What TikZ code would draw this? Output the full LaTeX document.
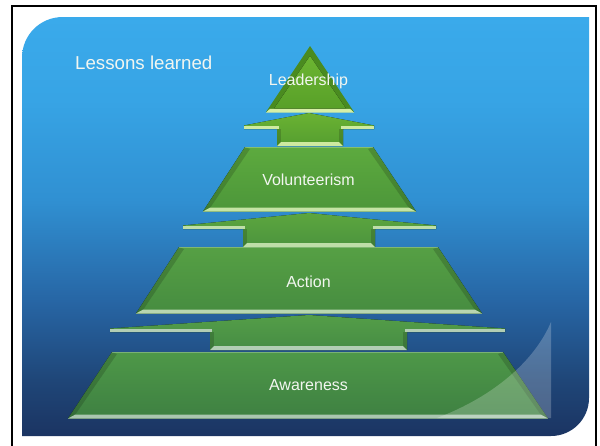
\documentclass[tikz,border=0pt]{standalone}
\usepackage{fontspec}
\setmainfont{Liberation Sans}
\definecolor{bgtop}{HTML}{3AAAEB}
\definecolor{bgA}{HTML}{37A4E5}
\definecolor{bgB}{HTML}{3090D2}
\definecolor{bgC}{HTML}{2766A5}
\definecolor{bgD}{HTML}{1F4678}
\definecolor{bgbot}{HTML}{1B3462}
\definecolor{txt}{HTML}{F2F6F0}
\pgfdeclareverticalshading{bgsh}{100bp}{color(0bp)=(bgbot); color(25bp)=(bgbot); color(31.7bp)=(bgD); color(41.2bp)=(bgC); color(53.2bp)=(bgB); color(65.1bp)=(bgA); color(75bp)=(bgtop); color(100bp)=(bgtop)}
\colorlet{pale}{white}
\tikzset{
  lbl/.style={text=txt, inner sep=0pt, font=\fontsize{16}{19}\selectfont},
  sidedark/.style={fill=black, fill opacity=0.16},
  topedge/.style={draw=white, draw opacity=0.25, line width=1pt},
  palestrip/.style={fill=pale},
}
% trapezoid: a b (top x) c d (bottom x) t bt (y) topcolor botcolor
\newcommand\pyrtrap[8]{%
  \fill[top color=#7,bottom color=#8] (#1,#5) -- (#2,#5) -- (#4,#6) -- (#3,#6) -- cycle;
  \fill[sidedark] (#3,#6) -- (#1,#5) -- ({#1+5},{#5+2}) -- ({#3+7},{#6-3.5}) -- cycle;
  \fill[sidedark] (#4,#6) -- (#2,#5) -- ({#2-5},{#5+2}) -- ({#4-7},{#6-3.5}) -- cycle;
  \draw[topedge] (#1,{#5+0.5}) -- (#2,{#5+0.5});
  \fill[palestrip] (#3,#6) -- (#4,#6) -- ({#4-7},{#6-3.8}) -- ({#3+7},{#6-3.8}) -- cycle;
}
% wing: tipL tipR boxL boxR apexY tipY boxBot topcolor botcolor
\newcommand\pyrwing[9]{%
  \fill[top color=#8,bottom color=#9] (309,#5) -- (#2,{#6-3.5}) -- (#2,#6) -- (#4,#6) -- (#4,#7) -- (#3,#7) -- (#3,#6) -- (#1,#6) -- (#1,{#6-3.5}) -- cycle;
  \fill[palestrip] (#1,{#6-3.5}) -- ({#3+2},{#6-3.5}) -- ({#3+2},#6) -- (#1,#6) -- cycle;
  \fill[palestrip] ({#4-2},{#6-3.5}) -- (#2,{#6-3.5}) -- (#2,#6) -- ({#4-2},#6) -- cycle;
  \fill[sidedark] (#3,#6) rectangle ({#3+4},#7);
  \fill[sidedark] ({#4-4},#6) rectangle (#4,#7);
  \fill[palestrip] (#3,#7) -- (#4,#7) -- ({#4-4},{#7-3.8}) -- ({#3+4},{#7-3.8}) -- cycle;
}
\begin{document}
\begin{tikzpicture}[x=1pt,y=-1pt]
\useasboundingbox (0,0) rectangle (600,445);
\fill[white] (0,0) rectangle (600,445);
\draw[line width=2.4pt] (12,450) -- (12,6) -- (596,6) -- (596,450);
% background panel
\path[shading=bgsh] (22,436) -- (22,58) .. controls (22,35) and (40,17) .. (63,17) -- (589,17) -- (589,398) .. controls (589,419) and (572,436) .. (551,436) -- cycle;
% Leadership triangle
\fill[fill={rgb,255:red,74;green,139;blue,32}] (310,46) -- (354,112) -- (266,112) -- cycle;
\fill[top color={rgb,255:red,108;green,181;blue,50}, bottom color={rgb,255:red,88;green,160;blue,40}] (310,56) -- (346,108.5) -- (274,108.5) -- cycle;
\colorlet{pale}{rgb,255:red,214;green,239;blue,166}
\fill[palestrip] (266,112.5) -- (354,112.5) -- (350,108.8) -- (270,108.8) -- cycle;
% level 2 wing
\colorlet{pale}{rgb,255:red,206;green,234;blue,160}
\pyrwing{244}{374}{277}{343}{113}{129}{146}{{rgb,255:red,106;green,178;blue,50}}{{rgb,255:red,85;green,158;blue,48}}
% Volunteerism
\colorlet{pale}{rgb,255:red,196;green,228;blue,164}
\pyrtrap{245}{373}{203}{416}{147}{211.5}{{rgb,255:red,93;green,170;blue,62}}{{rgb,255:red,76;green,150;blue,58}}
% level 4 wing
\colorlet{pale}{rgb,255:red,190;green,222;blue,168}
\pyrwing{183}{436}{243}{375}{213}{229}{247}{{rgb,255:red,92;green,166;blue,62}}{{rgb,255:red,76;green,148;blue,62}}
% Action
\colorlet{pale}{rgb,255:red,184;green,214;blue,176}
\pyrtrap{179}{438}{136}{482}{247}{313.5}{{rgb,255:red,86;green,160;blue,68}}{{rgb,255:red,70;green,140;blue,64}}
% level 6 wing
\colorlet{pale}{rgb,255:red,178;green,206;blue,180}
\pyrwing{110}{505}{210}{407}{315}{332}{350}{{rgb,255:red,84;green,158;blue,72}}{{rgb,255:red,70;green,140;blue,68}}
% Awareness
\colorlet{pale}{rgb,255:red,170;green,198;blue,176}
\pyrtrap{112}{503}{68}{548}{352}{418.5}{{rgb,255:red,78;green,152;blue,72}}{{rgb,255:red,62;green,128;blue,66}}
% highlight
\fill[white,fill opacity=0.22] (437,418) .. controls (495,396) and (535,360) .. (551,322) -- (551,418) -- cycle;
% labels
\node[lbl, anchor=base west, font=\fontsize{18.7}{22}\selectfont] (title) at (75,69) {Lessons learned};
\node[lbl, anchor=base] (lead) at (308.5,85) {Leadership};
\node[lbl, anchor=base] (vol) at (308.5,185) {Volunteerism};
\node[lbl, anchor=base] (act) at (308.5,287) {Action};
\node[lbl, anchor=base] (awa) at (308.5,390) {Awareness};
\end{tikzpicture}
\end{document}
